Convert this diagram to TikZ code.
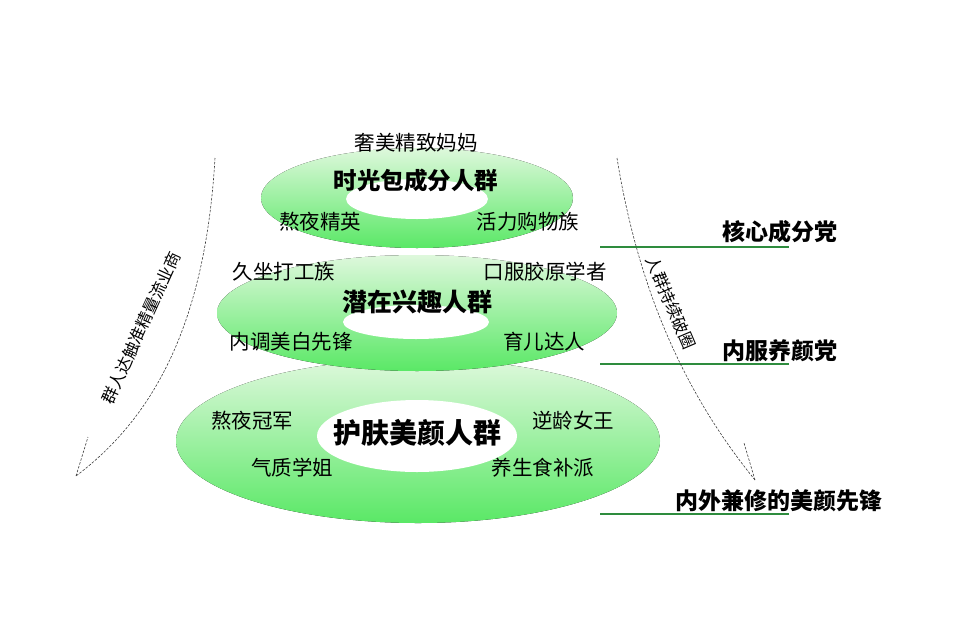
\documentclass[tikz,border=0pt]{standalone}
\usepackage{fontspec}
\newfontfamily\cjk{Noto Sans CJK SC}
\definecolor{ringtop}{RGB}{222,248,220}
\definecolor{ringmid}{RGB}{145,237,150}
\definecolor{ringbot}{RGB}{90,232,102}
\definecolor{linegreen}{RGB}{46,140,62}
\definecolor{dashgray}{RGB}{60,60,60}
\tikzset{
  ring/.style={top color=ringtop, middle color=ringmid, bottom color=ringbot, draw=none},
  hole/.style={fill=white, draw=none},
  lbl/.style={font=\cjk\fontsize{20.5}{24}\selectfont, text=black, inner sep=0pt},
  ttl/.style={font=\cjk\bfseries\fontsize{23.5}{28}\selectfont, text=black, inner sep=0pt},
  side/.style={font=\cjk\bfseries\fontsize{23}{27}\selectfont, text=black, inner sep=0pt},
  curvelbl/.style={font=\cjk\fontsize{16.5}{19}\selectfont, text=black, inner sep=0pt},
  guide/.style={draw=linegreen, line width=1.6pt},
  dashcurve/.style={draw=dashgray, line width=0.6pt, dash pattern=on 2.5pt off 1.5pt}
}
\begin{document}
\begin{tikzpicture}[x=1pt,y=-1pt]
\useasboundingbox (0,0) rectangle (960,637);
% rings (bottom to top)
\fill[ring] (418,441) ellipse [x radius=242, y radius=82];
\fill[hole] (417,436) ellipse [x radius=100, y radius=36];
\fill[ring] (417,313) ellipse [x radius=200, y radius=58];
\fill[hole] (416,322) ellipse [x radius=73, y radius=17];
\fill[ring] (417,198) ellipse [x radius=156, y radius=50];
\fill[hole] (417,199) ellipse [x radius=71, y radius=20];
% top ring texts
\node[lbl] (t0) at (416,143) {奢美精致妈妈};
\node[ttl] (t1) at (416,181) {时光包成分人群};
\node[lbl] (t2) at (320,222) {熬夜精英};
\node[lbl] (t3) at (528,222) {活力购物族};
% middle ring texts
\node[lbl] (m1) at (284,272) {久坐打工族};
\node[lbl] (m2) at (545,272) {口服胶原学者};
\node[ttl, font=\cjk\bfseries\fontsize{25}{29}\selectfont] (m0) at (417,302) {潜在兴趣人群};
\node[lbl] (m3) at (291,342) {内调美白先锋};
\node[lbl] (m4) at (544,342) {育儿达人};
% bottom ring texts
\node[lbl] (b1) at (252,421) {熬夜冠军};
\node[lbl] (b2) at (573,421) {逆龄女王};
\node[ttl, font=\cjk\bfseries\fontsize{28}{32}\selectfont] (b0) at (417,433) {护肤美颜人群};
\node[lbl] (b3) at (292,468) {气质学姐};
\node[lbl] (b4) at (543,468) {养生食补派};
% right side labels and lines
\coordinate (l1a) at (600,247); \coordinate (l1b) at (789,247);
\coordinate (l2a) at (600,364); \coordinate (l2b) at (789,364);
\coordinate (l3a) at (600,514); \coordinate (l3b) at (789,514);
\draw[guide] (l1a) -- (l1b);
\draw[guide] (l2a) -- (l2b);
\draw[guide] (l3a) -- (l3b);
\node[side] (s1) at (780,232) {核心成分党};
\node[side] (s2) at (780,351) {内服养颜党};
\node[side] (s3) at (779,501) {内外兼修的美颜先锋};
% left dashed curve
\coordinate (la) at (215,158);
\coordinate (lt) at (76,476);
\coordinate (lb) at (88,437);
\draw[dashcurve] (la) .. controls (205,330) and (150,420) .. (lt);
\draw[dashcurve] (lt) -- (lb);
\node[curvelbl, rotate=65.5] (lc) at (141,328) {群人达触准精量流业商};
% right dashed curve
\coordinate (ra) at (617,158);
\coordinate (rt) at (755,480);
\coordinate (rb) at (744,443);
\draw[dashcurve] (ra) .. controls (640,300) and (690,400) .. (rt);
\draw[dashcurve] (rt) -- (rb);
\node[curvelbl, rotate=-67] (rc) at (671,303) {人群持续破圈};
\end{tikzpicture}
\end{document}
